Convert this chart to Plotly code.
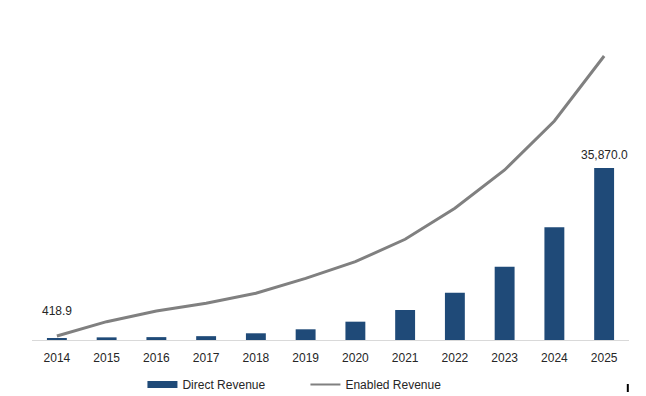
import plotly.graph_objects as go

years = ["2014", "2015", "2016", "2017", "2018", "2019", "2020", "2021", "2022", "2023", "2024", "2025"]
direct_revenue = [418.9, 550, 600, 800, 1400, 2230, 3820, 6250, 9870, 15290, 23500, 35870.0]
enabled_revenue = [830, 3820, 6050, 7650, 9740, 12860, 16330, 21000, 27460, 35450, 45660, 59210]

BLUE = "#1f4a78"
GRAY = "#808080"
FONT = "Liberation Sans, Arial, sans-serif"

fig = go.Figure()
fig.add_trace(go.Bar(x=years, y=direct_revenue, name="Direct Revenue",
                     marker=dict(color=BLUE, line=dict(width=0)),
                     width=0.4, showlegend=False))
fig.add_trace(go.Scatter(x=years, y=enabled_revenue, name="Enabled Revenue",
                         mode="lines", line=dict(color=GRAY, width=3), showlegend=False))
# legend entries
fig.add_trace(go.Scatter(x=[years[0]], y=[None], name="Direct Revenue", mode="lines",
                         line=dict(color=BLUE, width=7)))
fig.add_trace(go.Scatter(x=[years[0]], y=[None], name="Enabled Revenue", mode="lines",
                         line=dict(color=GRAY, width=2)))

fig.add_annotation(x=0, y=direct_revenue[0], text=f"{direct_revenue[0]:,.1f}",
                   showarrow=False, yanchor="bottom", yshift=18,
                   font=dict(family=FONT, size=12, color="#262626"))
fig.add_annotation(x=len(years) - 1, y=direct_revenue[-1], text=f"{direct_revenue[-1]:,.1f}",
                   showarrow=False, yanchor="bottom", yshift=4,
                   font=dict(family=FONT, size=12, color="#262626"))

fig.add_shape(type="line", xref="paper", yref="paper", x0=0.998, x1=0.998,
              y0=-0.1375, y1=-0.1625, line=dict(color="black", width=2))

fig.update_layout(
    width=646, height=396,
    margin=dict(l=24, r=25, t=12, b=64, autoexpand=False),
    paper_bgcolor="white", plot_bgcolor="white",
    font=dict(family=FONT, size=12, color="#262626"),
    bargap=0.6,
    legend=dict(orientation="h", x=0.185, y=-0.094, xanchor="left", yanchor="top",
                font=dict(family=FONT, size=12, color="#262626"),
                entrywidth=118, entrywidthmode="pixels", itemwidth=30),
    xaxis=dict(type="category", categoryorder="array", categoryarray=years,
               range=[-0.5, 11.5], showgrid=False, showline=True, linecolor="#d9d9d9",
               linewidth=1, ticks="", ticklabelstandoff=7, zeroline=False,
               tickfont=dict(family=FONT, size=12, color="#262626")),
    yaxis=dict(range=[0, 66720], visible=False, showgrid=False, zeroline=False),
)

fig.write_html("out.html")
